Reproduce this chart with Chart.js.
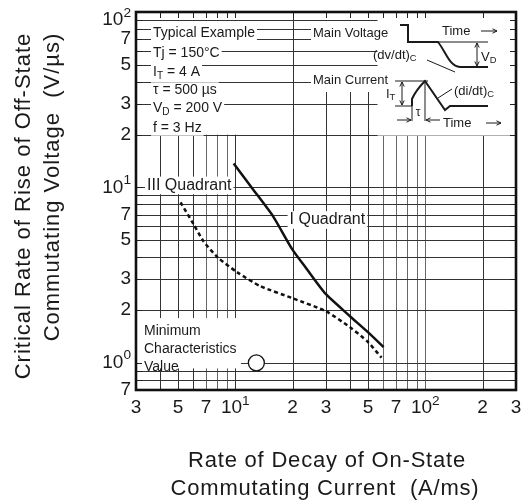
<!DOCTYPE html>
<html>
<head>
<meta charset="utf-8">
<script src="https://cdn.jsdelivr.net/npm/chart.js@4"></script>
<style>
  html, body { margin: 0; padding: 0; background: #fff; }
  canvas { display: block; }
</style>
</head>
<body>
<canvas id="graf" width="529" height="501"></canvas>
<script>
// valores (eixos log-log)
const quadIx = [9.8, 12.4, 15.8, 19.9, 23.8, 29.9, 40, 49.7, 60.3];
const quadIy = [13.7, 9.74, 6.84, 4.45, 3.42, 2.47, 1.85, 1.5, 1.23];
const quadIIIx = [5.15, 6.03, 6.8, 8.05, 10.2, 13.5, 19.9, 29.9, 40, 49.7, 58.8];
const quadIIIy = [8.22, 6.16, 4.93, 4.0, 3.29, 2.74, 2.34, 1.97, 1.6, 1.32, 1.07];
const minValX = [12.9];
const minValY = [1.0];

const xTickVals = [3, 5, 7, 10, 20, 30, 50, 70, 100, 200, 300];
const xTickLabels = ['3', '5', '7', '10^1', '2', '3', '5', '7', '10^2', '2', '3'];
const yTickVals = [0.7, 1, 2, 3, 5, 7, 10, 20, 30, 50, 70, 100];
const yTickLabels = ['7', '10^0', '2', '3', '5', '7', '10^1', '2', '3', '5', '7', '10^2'];
const xGrid = [4, 5, 6, 7, 8, 9, 10, 20, 30, 40, 50, 60, 70, 80, 90, 100, 200];
const yGrid = [0.8, 0.9, 1, 2, 3, 4, 5, 6, 7, 8, 9, 10, 20, 30, 40, 50, 60, 70, 80, 90];

const FONT = '"Liberation Sans", Arial, sans-serif';

function pares(xs, ys) { return xs.map((x, i) => ({ x: x, y: ys[i] })); }

// ---------- ajudantes de desenho ----------
function linha(c, x1, y1, x2, y2) {
    c.beginPath(); c.moveTo(x1, y1); c.lineTo(x2, y2); c.stroke();
}
function nitido(v) { return Math.round(v) + 0.5; }

function seta(c, x1, y1, x2, y2, dupla) {
    linha(c, x1, y1, x2, y2);
    const ang = Math.atan2(y2 - y1, x2 - x1), L = 5, W = 0.45;
    const ponta = (x, y, a) => {
        c.beginPath();
        c.moveTo(x, y);
        c.lineTo(x - L * Math.cos(a - W), y - L * Math.sin(a - W));
        c.moveTo(x, y);
        c.lineTo(x - L * Math.cos(a + W), y - L * Math.sin(a + W));
        c.stroke();
    };
    ponta(x2, y2, ang);
    if (dupla) ponta(x1, y1, ang + Math.PI);
}

// segs: [[texto, 'n'|'sub'|'sup'], ...]
function medir(c, segs, tam) {
    let w = 0;
    segs.forEach(([t, k]) => {
        const s = k === 'n' ? tam : tam * 0.72;
        c.font = s + 'px ' + FONT;
        w += c.measureText(t).width;
    });
    return w;
}
function texto(c, segs, x, y, tam, alinhar, fundo) {
    const w = medir(c, segs, tam);
    let x0 = x;
    if (alinhar === 'center') x0 = x - w / 2;
    if (alinhar === 'right') x0 = x - w;
    if (fundo) {
        c.fillStyle = '#fff';
        c.fillRect(x0 - 2, y - tam * 0.55, w + 4, tam * 1.1);
    }
    c.fillStyle = '#1a1a1a';
    c.textBaseline = 'middle';
    c.textAlign = 'left';
    segs.forEach(([t, k]) => {
        const s = k === 'n' ? tam : tam * 0.72;
        const dy = k === 'sub' ? tam * 0.28 : (k === 'sup' ? -tam * 0.38 : 0);
        c.font = s + 'px ' + FONT;
        c.fillText(t, x0, y + dy);
        x0 += c.measureText(t).width;
    });
}
function rotulo(str) {
    const p = str.split('^');
    return p.length > 1 ? [[p[0], 'n'], [p[1], 'sup']] : [[str, 'n']];
}

// ---------- plugin: grade, caixas, textos ----------
const folhaDeDados = {
    id: 'folhaDeDados',
    beforeDatasetsDraw(chart) {
        const c = chart.ctx, a = chart.chartArea;
        const X = v => chart.scales.x.getPixelForValue(v);
        const Y = v => chart.scales.y.getPixelForValue(v);
        c.save();
        c.fillStyle = '#fff';
        c.fillRect(a.left, a.top, a.right - a.left, a.bottom - a.top);

        // grade
        c.lineWidth = 1;
        xGrid.forEach(v => {
            const topo = v === 20 ? 100 : (v >= 30 && v <= 50 ? 35 : 20);
            c.strokeStyle = [7, 8, 9, 60, 70, 80, 90, 100].includes(v) ? '#666' : '#333';
            linha(c, nitido(X(v)), Y(topo), nitido(X(v)), a.bottom);
        });
        c.strokeStyle = '#333';
        yGrid.forEach(v => linha(c, a.left, nitido(Y(v)), a.right, nitido(Y(v))));

        // caixas brancas
        c.fillStyle = '#fff';
        c.fillRect(X(56), a.top, a.right - X(56), Y(20) - a.top + 1);
        c.fillRect(a.left + 3, Y(1.8), X(10.7) - a.left - 3, Y(0.93) - Y(1.8));

        // marcas internas nas bordas
        c.strokeStyle = '#222';
        xGrid.forEach(v => linha(c, nitido(X(v)), a.top, nitido(X(v)), a.top + 6));
        yGrid.forEach(v => {
            linha(c, a.left, nitido(Y(v)), a.left + 6, nitido(Y(v)));
            linha(c, a.right - 6, nitido(Y(v)), a.right, nitido(Y(v)));
        });

        // bloco de condições
        const bx = a.left + 17;
        texto(c, [['Typical Example', 'n']], bx, 33, 14, 'left', true);
        texto(c, [['Tj = 150°C', 'n']], bx, 53, 14, 'left', true);
        texto(c, [['I', 'n'], ['T', 'sub'], [' = 4 A', 'n']], bx, 72, 14, 'left', true);
        texto(c, [['τ = 500 µs', 'n']], bx, 90, 14, 'left', true);
        texto(c, [['V', 'n'], ['D', 'sub'], [' = 200 V', 'n']], bx, 108, 14, 'left', true);
        texto(c, [['f = 3 Hz', 'n']], bx, 128, 14, 'left', true);

        texto(c, [['III Quadrant', 'n']], a.left + 11, Y(10) - 2, 16, 'left', true);
        texto(c, [['I Quadrant', 'n']], X(19.3), 220, 16, 'left', true);

        texto(c, [['Minimum', 'n']], a.left + 8, 331, 14, 'left', false);
        texto(c, [['Characteristics', 'n']], a.left + 8, 349, 14, 'left', false);
        texto(c, [['Value', 'n']], a.left + 8, 367, 14, 'left', false);

        // diagrama das formas de onda
        texto(c, [['Main Voltage', 'n']], 313, 33, 13, 'left', true);
        texto(c, [['Main Current', 'n']], 313, 80, 13, 'left', true);
        c.strokeStyle = '#1a1a1a';
        c.lineWidth = 1;
        linha(c, 438, 42, 488, 42);
        linha(c, 395, 81, 428, 81);
        linha(c, 395, 106, 412, 106);
        linha(c, 412, 106, 412, 121);
        linha(c, 425, 81, 425, 121);
        seta(c, 477, 43, 477, 66, true);
        seta(c, 402, 82, 402, 105, true);
        seta(c, 397, 120, 411, 120, false);
        seta(c, 440, 120, 426, 120, false);
        seta(c, 481, 31, 497, 31, false);
        seta(c, 486, 123, 501, 123, false);
        linha(c, 427, 60, 455, 72);
        linha(c, 438, 98, 452, 89);

        c.lineWidth = 2;
        c.beginPath();
        c.moveTo(400, 25); c.lineTo(408, 25); c.lineTo(408, 42); c.lineTo(438, 42);
        c.bezierCurveTo(446, 52, 449, 66, 460, 67);
        c.lineTo(488, 67);
        c.stroke();
        c.beginPath();
        c.moveTo(412, 106); c.lineTo(412, 99);
        c.quadraticCurveTo(416, 90, 425, 81);
        c.lineTo(445, 110); c.lineTo(450, 106); c.lineTo(488, 106);
        c.stroke();

        texto(c, [['Time', 'n']], 442, 31, 13, 'left', false);
        texto(c, [['Time', 'n']], 443, 123, 13, 'left', false);
        texto(c, [['(dv/dt)', 'n'], ['C', 'sub']], 373, 55, 13, 'left', false);
        texto(c, [['(di/dt)', 'n'], ['C', 'sub']], 454, 91, 13, 'left', false);
        texto(c, [['V', 'n'], ['D', 'sub']], 481, 57, 13, 'left', false);
        texto(c, [['I', 'n'], ['T', 'sub']], 386, 94, 13, 'left', false);
        texto(c, [['τ', 'n']], 418, 113, 12, 'center', false);
        c.restore();
    },
    afterDatasetsDraw(chart) {
        const c = chart.ctx, a = chart.chartArea;
        const X = v => chart.scales.x.getPixelForValue(v);
        const Y = v => chart.scales.y.getPixelForValue(v);
        c.save();
        // moldura
        c.strokeStyle = '#111';
        c.lineWidth = 2.6;
        c.strokeRect(a.left, a.top, a.right - a.left, a.bottom - a.top);

        // rótulos dos eixos
        xTickVals.forEach((v, i) => texto(c, rotulo(xTickLabels[i]), X(v), 408, 19, 'center', false));
        yTickVals.forEach((v, i) => texto(c, rotulo(yTickLabels[i]), 131, Math.max(Y(v), 20), 19, 'right', false));

        // títulos
        c.fillStyle = '#1a1a1a';
        c.font = '22px ' + FONT;
        c.letterSpacing = '0.8px';
        c.textAlign = 'center';
        c.textBaseline = 'middle';
        c.fillText('Rate of Decay of On-State', 327, 461);
        c.fillText('Commutating Current  (A/ms)', 325, 489);
        c.letterSpacing = '1px';
        c.translate(24, 206);
        c.rotate(-Math.PI / 2);
        c.fillText('Critical Rate of Rise of Off-State', 0, 0);
        c.fillText('Commutating Voltage  (V/µs)', 19, 29);
        c.restore();
    }
};

new Chart(document.getElementById('graf'), {
    type: 'line',
    data: {
        datasets: [
            { label: 'I Quadrant', data: pares(quadIx, quadIy), borderColor: '#111', borderWidth: 2.5, pointRadius: 0, tension: 0.2, fill: false },
            { label: 'III Quadrant', data: pares(quadIIIx, quadIIIy), borderColor: '#111', borderWidth: 2.5, borderDash: [4, 3], pointRadius: 0, tension: 0.2, fill: false },
            { label: 'Minimum Characteristics Value', data: pares(minValX, minValY), showLine: false, pointRadius: 8, pointBackgroundColor: '#fff', pointBorderColor: '#111', pointBorderWidth: 1.3 }
        ]
    },
    options: {
        responsive: false,
        animation: false,
        layout: { padding: { top: 12, right: 13, left: 0, bottom: 0 } },
        plugins: { legend: { display: false }, tooltip: { enabled: false } },
        scales: {
            x: {
                type: 'logarithmic', min: 3, max: 300,
                grid: { display: false }, border: { display: false }, ticks: { display: false },
                afterFit: s => { s.height = 111; }
            },
            y: {
                type: 'logarithmic', min: 0.7, max: 100,
                grid: { display: false }, border: { display: false }, ticks: { display: false },
                afterFit: s => { s.width = 136; }
            }
        }
    },
    plugins: [folhaDeDados]
});
</script>
</body>
</html>
